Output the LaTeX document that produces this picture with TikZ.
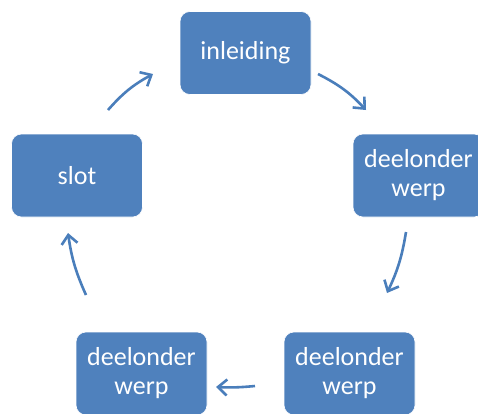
\documentclass[tikz,border=0pt]{standalone}
\usepackage{fontspec}
\setmainfont{Carlito}
\usetikzlibrary{arrows.meta}
\definecolor{boxblue}{HTML}{4F81BD}
\definecolor{arrowblue}{HTML}{4A7EBB}
\tikzset{
  cyclebox/.style={rectangle, rounded corners=10pt, fill=boxblue, draw=white, line width=0.6pt,
    minimum width=131pt, minimum height=83pt, inner sep=0pt, text=white, align=center,
    font=\fontsize{26pt}{29pt}\selectfont},
  cyclearrow/.style={draw=arrowblue, line width=2.6pt,
    -{Straight Barb[length=9pt, width=16pt, line width=2.6pt]}}
}
\begin{document}
\begin{tikzpicture}[x=1pt, y=-1pt]
\useasboundingbox (0,0) rectangle (478,413);
\node[cyclebox] (intro) at (245.5,53) {inleiding};
\node[cyclebox] (d1) at (418.5,175.5) {deelonder\\werp};
\node[cyclebox] (d2) at (349.5,373.5) {deelonder\\werp};
\node[cyclebox] (d3) at (141.5,373.5) {deelonder\\werp};
\node[cyclebox] (slot) at (77,175.5) {slot};
\coordinate (a1s) at (318,74);
\coordinate (a1e) at (366,110);
\coordinate (a2s) at (406,232);
\coordinate (a2e) at (387,293);
\coordinate (a3s) at (255,386);
\coordinate (a3e) at (216,387);
\coordinate (a4s) at (86,295);
\coordinate (a4e) at (68,233);
\coordinate (a5s) at (108,110);
\coordinate (a5e) at (153,74);
\draw[cyclearrow] (a1s) to[bend left=10] (a1e);
\draw[cyclearrow] (a2s) to[bend left=8] (a2e);
\draw[cyclearrow] (a3s) to[bend left=4] (a3e);
\draw[cyclearrow] (a4s) to[bend left=8] (a4e);
\draw[cyclearrow] (a5s) to[bend left=10] (a5e);
\end{tikzpicture}
\end{document}
